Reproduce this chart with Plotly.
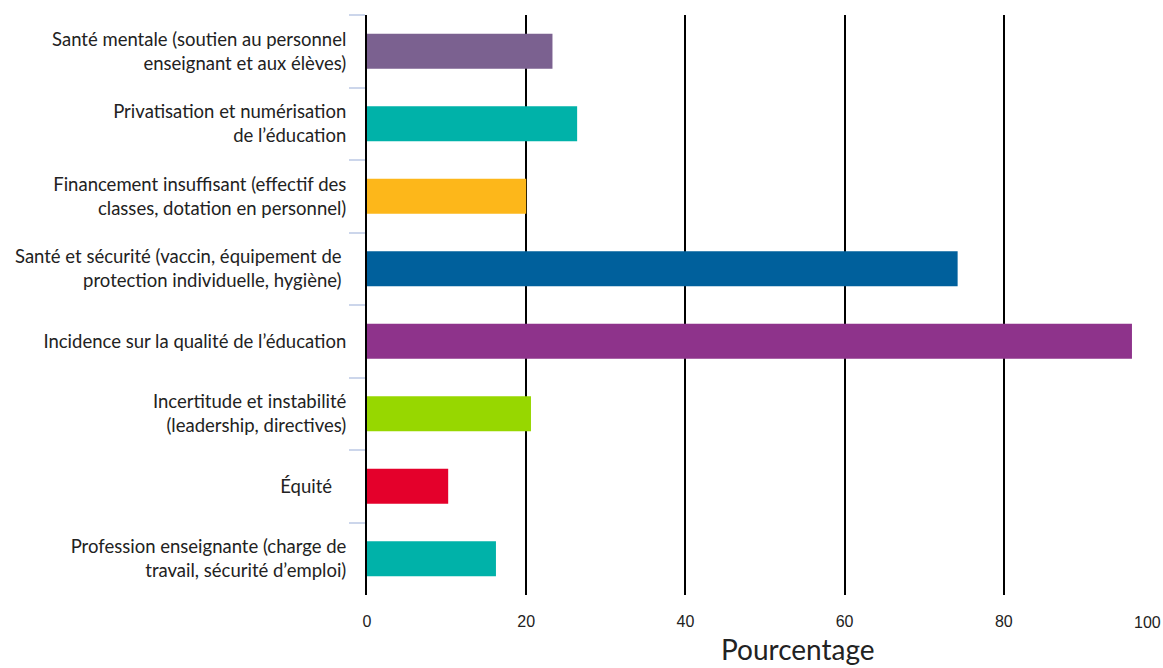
import plotly.graph_objects as go

categories = [
    "Santé mentale (soutien au personnel<br>enseignant et aux élèves)",
    "Privatisation et numérisation<br>de l’éducation",
    "Financement insuffisant (effectif des<br>classes, dotation en personnel)",
    "Santé et sécurité (vaccin, équipement de\u00a0<br>protection individuelle, hygiène)\u00a0",
    "Incidence sur la qualité de l’éducation",
    "Incertitude et instabilité<br>(leadership, directives)",
    "Équité\u00a0\u00a0\u00a0",
    "Profession enseignante (charge de<br>travail, sécurité d’emploi)",
]
values = [23.3, 26.4, 20.0, 74.2, 96.1, 20.6, 10.2, 16.2]
colors = ["#7b6190", "#00b2a9", "#fdb71a", "#00609c", "#8e338b", "#97d700", "#e4002b", "#00b2a9"]
x_ticks = [0, 20, 40, 60, 80, 100]

fig = go.Figure(go.Bar(
    x=values, y=categories, orientation="h",
    marker=dict(color=colors, line=dict(width=0)),
    hoverinfo="x+y",
))

fig.update_layout(
    width=1163, height=668,
    margin=dict(l=367, r=0, t=15, b=73),
    plot_bgcolor="white", paper_bgcolor="white",
    bargap=0.52,
    showlegend=False,
    font=dict(family="Lato", size=18.5, color="#222222"),
    xaxis=dict(
        range=[0, 100], tickvals=x_ticks,
        ticktext=[str(v) if v != 100 else "" for v in x_ticks],
        showgrid=True, gridcolor="#000000", gridwidth=1.5,
        zeroline=False, showline=False, ticks="",
        tickfont=dict(family="Liberation Sans, Arial", size=16, color="#222222"),
        ticklabelstandoff=15,
        fixedrange=True,
    ),
    yaxis=dict(
        autorange="reversed",
        showline=True, linecolor="#000000", linewidth=2,
        ticks="outside", tickson="boundaries", ticklen=16, tickwidth=2,
        tickcolor="#ccd6eb",
        tickfont=dict(family="Lato", size=18.5, color="#222222"),
        ticklabelstandoff=15,
        showgrid=False,
        fixedrange=True,
    ),
    annotations=[
        dict(x=100, y=0, xref="x", yref="paper", yshift=-27, text="100",
             showarrow=False, xanchor="right", yanchor="middle",
             font=dict(family="Liberation Sans, Arial", size=16, color="#222222")),
        dict(x=54.2, y=0, xref="x", yref="paper", yshift=-54, text="Pourcentage",
             showarrow=False, xanchor="center", yanchor="middle",
             font=dict(family="Lato", size=28, color="#222222")),
    ],
)

post = (
    "document.body.style.margin='0';"
    "var s=document.createElement('style');"
    "s.textContent='text{font-variant-ligatures:none;}';"
    "document.head.appendChild(s);"
)
fig.write_html("out.html", config={"displayModeBar": False}, post_script=post)
